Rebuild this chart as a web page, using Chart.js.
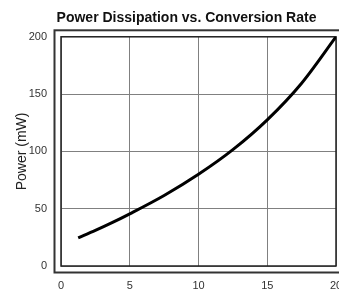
<!DOCTYPE html>
<html>
<head>
<meta charset="utf-8">
<script src="https://cdn.jsdelivr.net/npm/chart.js@4"></script>
<style>
  body { margin: 0; background: #fff; }
  #wrap { width: 339px; height: 290px; overflow: hidden; position: relative; }
  canvas { display: block; }
</style>
</head>
<body>
<div id="wrap"><canvas id="chart" width="373" height="300"></canvas></div>
<script>
const rate = [1.25, 2.5, 3.75, 5, 7.5, 10, 12.5, 15, 17.5, 20];
const power = [24.5, 31, 38, 45.5, 61.5, 80, 101.5, 127.5, 159.5, 200];
const xTicks = [0, 5, 10, 15, 20];
const yTicks = [0, 50, 100, 150, 200];

const FONT = 'Arial, "Liberation Sans", sans-serif';

// double frame round the plot area
const framePlugin = {
  id: 'frame',
  beforeDatasetsDraw(chart) {
    const { ctx, chartArea: a } = chart;
    ctx.save();
    ctx.strokeStyle = '#222';
    ctx.lineWidth = 1.5;
    ctx.strokeRect(a.left, a.top, a.right - a.left, a.bottom - a.top);
    ctx.strokeStyle = '#333';
    ctx.lineWidth = 2;
    ctx.strokeRect(a.left - 6.5, a.top - 6.5, a.right - a.left + 13, a.bottom - a.top + 13);
    ctx.restore();
  }
};

new Chart(document.getElementById('chart'), {
  type: 'line',
  data: {
    datasets: [{
      data: rate.map((x, i) => ({ x: x, y: power[i] })),
      borderColor: '#000',
      borderWidth: 3,
      pointRadius: 0,
      fill: false,
      cubicInterpolationMode: 'monotone'
    }]
  },
  options: {
    responsive: false,
    animation: false,
    devicePixelRatio: 1,
    plugins: {
      legend: { display: false },
      tooltip: { enabled: false },
      title: {
        display: true,
        text: 'Power Dissipation vs. Conversion Rate',
        color: '#111',
        font: { family: FONT, size: 14, weight: 'bold' },
        padding: { top: 10, bottom: 10 }
      }
    },
    scales: {
      x: {
        type: 'linear',
        min: 0,
        max: 20,
        afterBuildTicks: s => { s.ticks = xTicks.map(v => ({ value: v })); },
        afterFit: s => { s.height = 34; },
        grid: { color: '#808080', lineWidth: 1, drawTicks: false },
        border: { display: false },
        ticks: { color: '#333', padding: 13, font: { family: FONT, size: 11 } }
      },
      y: {
        min: 0,
        max: 200,
        afterBuildTicks: s => { s.ticks = yTicks.map(v => ({ value: v })); },
        afterFit: s => { s.width = 61; },
        grid: { color: '#808080', lineWidth: 1, drawTicks: false },
        border: { display: false },
        ticks: { color: '#333', padding: 14, font: { family: FONT, size: 11 } },
        title: {
          display: true,
          text: 'Power (mW)',
          color: '#222',
          font: { family: FONT, size: 14 },
          padding: { top: 14, bottom: 0 }
        }
      },
      // empty right-hand axis only reserves room so the plot ends at x=336
      yRight: {
        position: 'right',
        min: 0,
        max: 200,
        afterFit: s => { s.width = 37; },
        grid: { display: false },
        border: { display: false },
        ticks: { display: false }
      }
    }
  },
  plugins: [framePlugin]
});
</script>
</body>
</html>
